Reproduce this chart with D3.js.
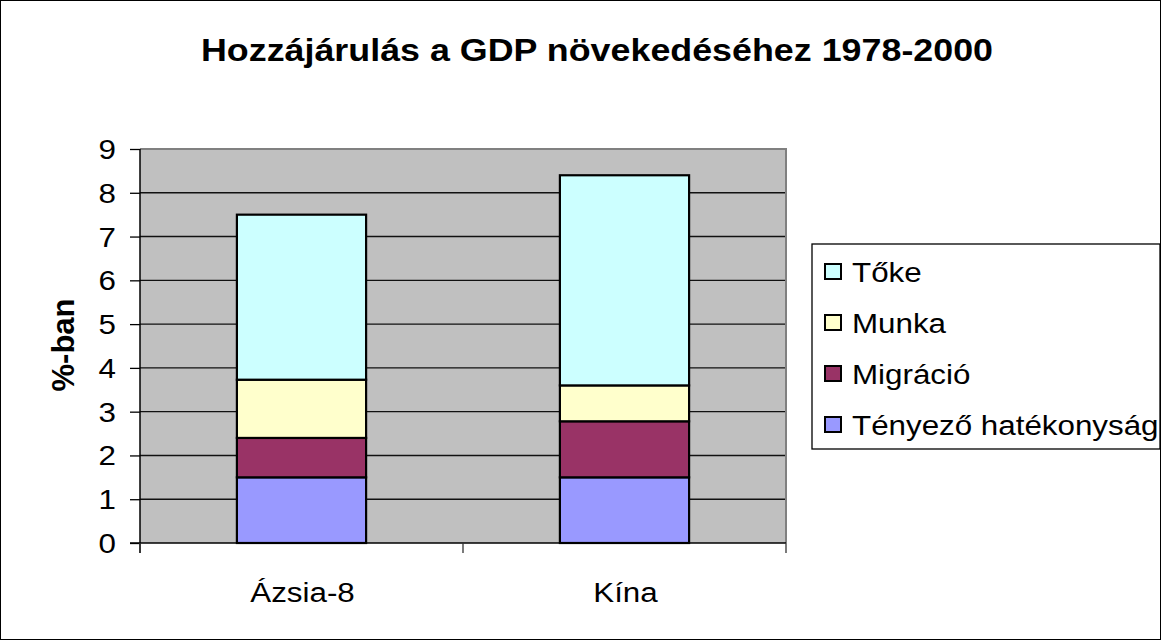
<!DOCTYPE html>
<html><head><meta charset="utf-8">
<script src="https://cdn.jsdelivr.net/npm/d3@7"></script>
<style>body{margin:0;background:#fff}svg{display:block}</style>
</head><body>
<svg id="c" width="1161" height="640"></svg>
<script>
const categories = ["Ázsia-8", "Kína"];
const seriesNames = ["Tényező hatékonyság", "Migráció", "Munka", "Tőke"];
const tenyezo = [1.5, 1.5];
const migracio = [0.9, 1.28];
const munka = [1.33, 0.82];
const toke = [3.77, 4.8];
const yTicks = [0,1,2,3,4,5,6,7,8,9];
const colors = ["#9999FF", "#993366", "#FFFFCC", "#CCFFFF"];
const title = "Hozzájárulás a GDP növekedéséhez 1978-2000";
const yLabel = "%-ban";

const svg = d3.select("#c");
const FONT = "'Liberation Sans', Arial, sans-serif";
const SX = 1.14;
const FS = 27.5;

svg.append("rect").attr("x",0.5).attr("y",0.5).attr("width",1160).attr("height",639)
  .attr("fill","#fff").attr("stroke","#000").attr("stroke-width",1);

const L=140, R=786, T=149, B=543;
const x = d3.scaleBand().domain(categories).range([L,R]).paddingInner(0.6).paddingOuter(0.3);
const y = d3.scaleLinear().domain([0,9]).range([B,T]);

svg.append("rect").attr("x",L).attr("y",T).attr("width",R-L).attr("height",B-T).attr("fill","#C0C0C0");
svg.append("g").selectAll("line").data(yTicks.filter(d=>d>0)).join("line")
  .attr("x1",L).attr("x2",R).attr("y1",d=>y(d)).attr("y2",d=>y(d))
  .attr("stroke","#111").attr("stroke-width",1.4);
svg.append("path").attr("d",`M${L},${T}H${R}V${B}`).attr("fill","none").attr("stroke","#808080").attr("stroke-width",2);

const rows = categories.map((c,i)=>({cat:c, s0:tenyezo[i], s1:migracio[i], s2:munka[i], s3:toke[i]}));
const stack = d3.stack().keys(["s0","s1","s2","s3"])(rows);
svg.append("g").selectAll("g").data(stack).join("g")
  .attr("fill",(d,i)=>colors[i])
  .selectAll("rect").data(d=>d).join("rect")
  .attr("x",d=>x(d.data.cat)).attr("width",x.bandwidth())
  .attr("y",d=>y(d[1])).attr("height",d=>y(d[0])-y(d[1]))
  .attr("stroke","#000").attr("stroke-width",2.2);

const yAxis = svg.append("g").attr("transform",`translate(${L},0)`)
  .call(d3.axisLeft(y).tickValues(yTicks).tickSize(10).tickFormat(""));
yAxis.select(".domain").attr("stroke","#000").attr("stroke-width",1.5).attr("d",`M0,${T}V${B+10}`);
yAxis.selectAll(".tick line").attr("stroke","#000").attr("stroke-width",1.3);
svg.append("g").selectAll("text").data(yTicks).join("text")
  .attr("transform",d=>`translate(116,${y(d)+10}) scale(${SX},1)`)
  .attr("text-anchor","end").attr("font-family",FONT).attr("font-size",FS).text(d=>d);

const bounds = [L, (L+R)/2, R];
svg.append("line").attr("x1",L-10).attr("x2",R).attr("y1",B).attr("y2",B).attr("stroke","#000").attr("stroke-width",1.5);
svg.append("g").selectAll("line").data(bounds).join("line")
  .attr("x1",d=>d).attr("x2",d=>d).attr("y1",B).attr("y2",B+10).attr("stroke","#333").attr("stroke-width",1.3);
svg.append("g").selectAll("text").data(categories).join("text")
  .attr("transform",d=>`translate(${x(d)+x.bandwidth()/2+1},602) scale(${SX},1)`)
  .attr("text-anchor","middle").attr("font-family",FONT).attr("font-size",FS).text(d=>d);

svg.append("text").attr("transform",`translate(597,61) scale(1.12,1)`)
  .attr("text-anchor","middle").attr("font-family",FONT).attr("font-weight","bold")
  .attr("font-size",32).text(title);

svg.append("text").attr("transform","translate(74,345) rotate(-90)")
  .attr("text-anchor","middle").attr("font-family",FONT).attr("font-weight","bold")
  .attr("font-size",31).text(yLabel);

svg.append("rect").attr("x",812).attr("y",244).attr("width",348).attr("height",205)
  .attr("fill","#fff").attr("stroke","#000").attr("stroke-width",1.3);
const legOrder = [3,2,1,0];
const lg = svg.append("g").selectAll("g").data(legOrder).join("g")
  .attr("transform",(d,i)=>`translate(0,${272+i*51})`);
lg.append("rect").attr("x",825).attr("y",-8).attr("width",16).attr("height",15)
  .attr("fill",d=>colors[d]).attr("stroke","#000").attr("stroke-width",2);
lg.append("text").attr("transform",`translate(852,10) scale(${SX},1)`)
  .attr("font-family",FONT).attr("font-size",FS).text(d=>seriesNames[d]);
</script>
</body></html>
